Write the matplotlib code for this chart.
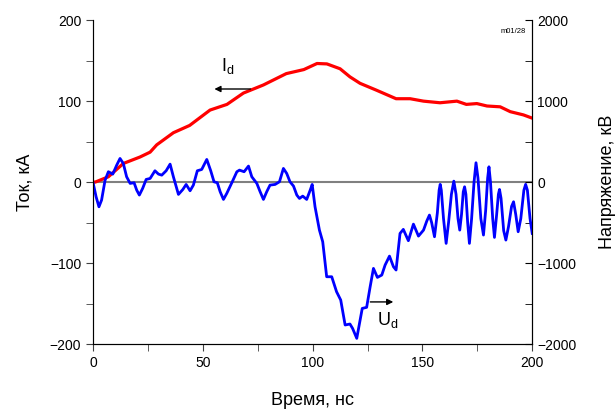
import numpy as np
import matplotlib.pyplot as plt

plt.rcParams['font.family'] = ['Liberation Sans', 'DejaVu Sans']

# ток I_d, кА
t_cur = [0, 1, 7, 13.8, 21.4, 26, 29, 36.6, 44, 53.3, 61, 68.5, 77.6, 88, 96,
         102, 106.5, 112.5, 117, 121.6, 129, 138, 144.4, 150.5, 158, 165.7,
         170, 174.8, 179.4, 185.4, 190, 196, 200]
cur = [0, 0, 6.6, 23, 31, 37, 46, 61, 70, 89, 96, 110, 120, 134, 139,
       146.5, 146, 140, 130, 122, 113.6, 103, 103, 100, 98, 100,
       96, 97, 94, 93, 87, 83, 79]

# напряжение U_d, кВ
t_volt = [0.1, 1.4, 2.7, 3.9, 5.5, 7, 9, 10.8, 12.3, 13.8, 15.3, 16.9, 18.7,
          19.9, 21.1, 22.6, 24.2, 26, 28.2, 29.8, 31.3, 33.3, 35.1, 36.6, 38.9,
          40.9, 42.4, 44.2, 45.7, 47.5, 49.5, 51.8, 53.6, 55.1, 56.6, 57.9,
          59.4, 60.9, 63.2, 65.5, 66.7, 68.8, 70.8, 72.3, 74.6, 76.1, 77.6,
          79.1, 80.6, 82.9, 84.9, 86.7, 88.2, 89.7, 91.3, 92.8, 94, 95.5, 97.3,
          98.9, 99.8, 101.1, 103.1, 104.6, 106.4, 108.7, 110.9, 112.8, 114.8,
          117, 118.2, 120.1, 121.6, 122.6, 124.6, 126.2, 127.7, 129.5, 131.5,
          133, 135, 136.8, 138, 139.8, 141.3, 143.6, 145.9, 148.2, 150.5, 152,
          153.2, 154.2, 155.5, 156.8, 157.6, 158.1, 158.6, 159.6, 160.8, 161.9,
          163.2, 164.3, 165.3, 166.2, 167, 167.8, 168.6, 169.2, 169.8, 170.6,
          171.4, 172.4, 173.5, 174.4, 175.3, 176.6, 177.8, 178.8, 179.7, 180.3,
          181, 182, 182.8, 183.8, 184.6, 185.1, 185.8, 187, 188, 189.2, 190.6,
          191.5, 192.5, 193.6, 194.8, 196.2, 197, 197.8, 199, 200]
volt = [-16, -181, -305, -222, 25, 128, 99, 210, 292, 230, 66, -16, -8,
        -99, -160, -78, 33, 45, 140, 99, 86, 140, 222, 66, -152,
        -91, -29, -107, -37, 140, 156, 280, 140, 4, -8, -119,
        -214, -140, -8, 128, 148, 128, 198, 66, -16, -119, -214,
        -119, -37, -29, 4, 169, 107, 4, -49, -160, -202, -173, -214,
        -99, -29, -305, -593, -737, -1169, -1169, -1354, -1457, -1765,
        -1753, -1807, -1930, -1704, -1560, -1547, -1292, -1066, -1177, -1148,
        -1025, -914, -1045, -1086, -634, -584, -724, -519, -667, -593, -480,
        -407, -500, -675, -380, -100, -28, -100, -450, -757, -500,
        -150, 12, -150, -450, -593, -400, -120, -58, -150, -500,
        -757, -450, 0, 239, 50, -450, -654, -350, 50, 189,
        0, -450, -683, -400, -150, -91, -200, -600, -716, -550, -300,
        -243, -400, -613, -450, -100, -28, -100, -450, -634]

fig = plt.figure(figsize=(6.16, 4.12), dpi=100)
ax = fig.add_axes([0.151, 0.165, 0.713, 0.786])
ax2 = ax.twinx()

ax.axhline(0, color='#808080', lw=1.5, zorder=1)
ax.plot(t_cur, cur, color='red', lw=2.3, zorder=3)
ax2.plot(t_volt, volt, color='blue', lw=2.0, solid_joinstyle='round')

ax.set_xlim(0, 200)
ax.set_ylim(-200, 200)
ax2.set_ylim(-2000, 2000)
ax.set_xticks([0, 50, 100, 150, 200])
ax.set_xticks([25, 75, 125, 175], minor=True)
ax.set_yticks([-200, -100, 0, 100, 200])
ax.set_yticks([-150, -50, 50, 150], minor=True)
ax2.set_yticks([-2000, -1000, 0, 1000, 2000])
ax2.set_yticks([-1500, -500, 500, 1500], minor=True)

for a in (ax, ax2):
    a.spines['top'].set_visible(False)
ax.spines['left'].set_color('#505050')
ax.spines['bottom'].set_color('#303030')
ax2.spines['right'].set_color('black')

ax.tick_params(which='both', direction='out', length=5, labelsize=10, color='#404040')
ax2.tick_params(which='both', direction='in', length=5, labelsize=10)

ax.set_xlabel('Время, нс', fontsize=13, labelpad=16)
ax.set_ylabel('Ток, кА', fontsize=13, labelpad=12)
ax2.set_ylabel('Напряжение, кВ', fontsize=13, labelpad=16)

ax2.text(0.985, 0.965, 'm01/28', transform=ax.transAxes, fontsize=5.5,
         ha='right', va='center')

ax.annotate('', xy=(54, 115), xytext=(73, 115),
            arrowprops=dict(arrowstyle='-|>', color='black', lw=1, mutation_scale=9))
ax.text(61.5, 143, r'I$_\mathregular{d}$', fontsize=13, ha='center', va='center')
ax.annotate('', xy=(138, -148), xytext=(125, -148),
            arrowprops=dict(arrowstyle='-|>', color='black', lw=1, mutation_scale=9))
ax.text(134, -170, r'U$_\mathregular{d}$', fontsize=13, ha='center', va='center')

fig.savefig('out.png', dpi=100)
